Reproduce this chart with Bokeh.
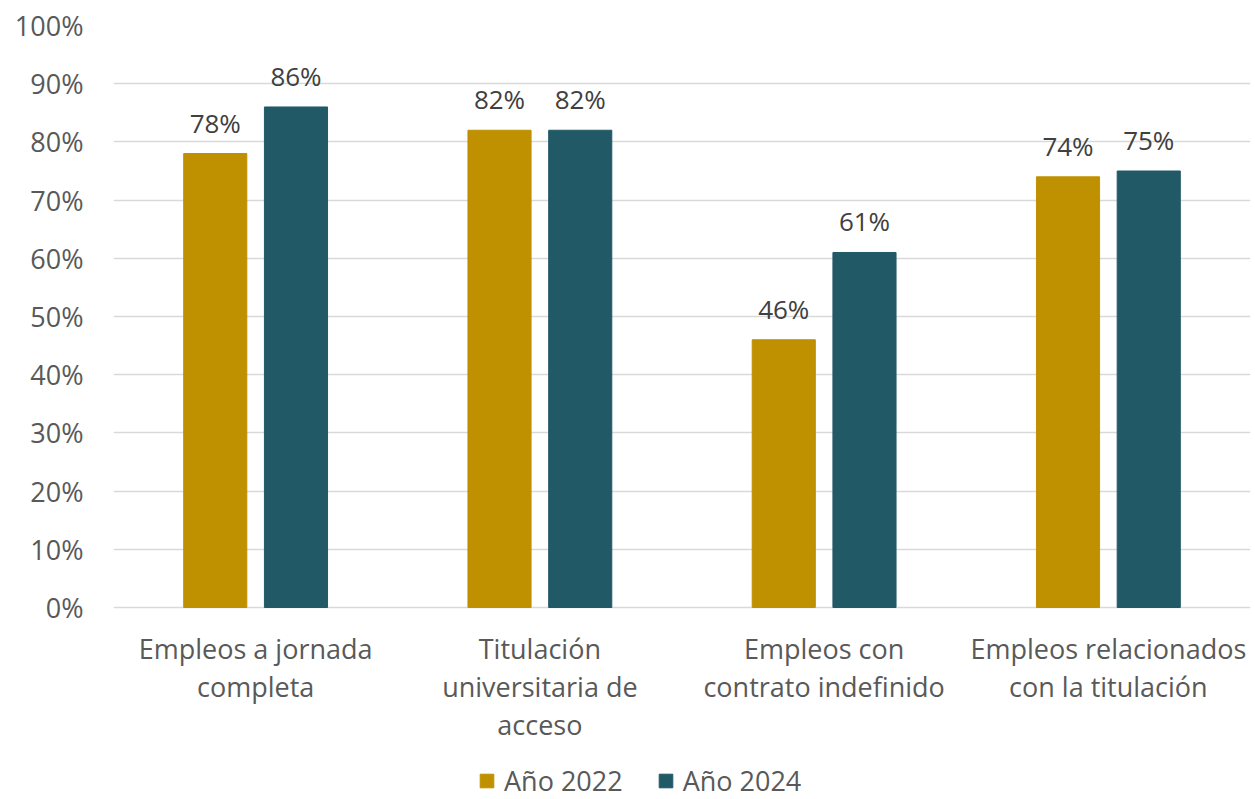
from bokeh.plotting import figure
from bokeh.models import (ColumnDataSource, FactorRange, Range1d, FixedTicker,
                          PrintfTickFormatter, Legend, LegendItem, LabelSet)
from bokeh.core.properties import value
from bokeh.transform import dodge
from bokeh.embed import file_html
from bokeh.resources import INLINE

categories = ["Empleos a jornada completa",
              "Titulación universitaria de acceso",
              "Empleos con contrato indefinido",
              "Empleos relacionados con la titulación"]
label_line1 = ["Empleos a jornada", "Titulación", "Empleos con", "Empleos relacionados"]
label_line2 = ["completa", "universitaria de", "contrato indefinido", "con la titulación"]
label_line3 = ["", "acceso", "", ""]
values_2022 = [78, 82, 46, 74]
values_2024 = [86, 82, 61, 75]
series_names = ["Año 2022", "Año 2024"]
y_ticks = [0, 10, 20, 30, 40, 50, 60, 70, 80, 90, 100]

FONT = "Open Sans"
C22 = "#BF9000"
C24 = "#215967"
PX_PER_UNIT = 5.82          # 582 px for 0..100 %
BELOW_PX = 192              # room under the 0 % line for labels and legend

src = ColumnDataSource(dict(
    cat=categories,
    line1=label_line1,
    line2=label_line2,
    line3=label_line3,
    v22=values_2022,
    v24=values_2024,
    l22=[f"{v}%" for v in values_2022],
    l24=[f"{v}%" for v in values_2024],
))

p = figure(frame_width=1137, frame_height=582 + BELOW_PX, output_backend="svg",
           toolbar_location=None,
           x_range=FactorRange(*categories, range_padding=0),
           y_range=Range1d(-BELOW_PX / PX_PER_UNIT, 100),
           min_border_left=113, min_border_right=3, min_border_top=25,
           min_border_bottom=0, x_axis_location=None)

r1 = p.vbar(x=dodge("cat", -0.142, range=p.x_range), top="v22", width=0.222,
            source=src, fill_color=C22, line_color=C22)
r2 = p.vbar(x=dodge("cat", 0.142, range=p.x_range), top="v24", width=0.222,
            source=src, fill_color=C24, line_color=C24)

for col, lab, off in (("v22", "l22", -0.142), ("v24", "l24", 0.142)):
    ls = LabelSet(x=dodge("cat", off, range=p.x_range), y=col, text=lab, source=src,
                  text_align="center", text_baseline="alphabetic", y_offset=21,
                  text_font=value(FONT), text_font_size=value("26px"),
                  text_color=value("#404040"))
    p.add_layout(ls)

# category labels under the 0 % line, one LabelSet per text line (centred lines)
for line_col, off in (("line1", -51), ("line2", -89), ("line3", -127)):
    cl = LabelSet(x="cat", y=0, text=line_col, source=src,
                  text_align="center", text_baseline="alphabetic", y_offset=off,
                  text_font=value(FONT), text_font_size=value("27px"),
                  text_color=value("#595959"))
    p.add_layout(cl)

p.outline_line_color = None
p.background_fill_color = "white"
p.border_fill_color = "white"

p.xgrid.grid_line_color = None
p.ygrid.grid_line_color = "#D9D9D9"
p.ygrid.grid_line_width = 1.5
p.ygrid.ticker = FixedTicker(ticks=y_ticks)

p.yaxis.ticker = FixedTicker(ticks=y_ticks)
p.yaxis.formatter = PrintfTickFormatter(format="%d%%")
p.yaxis.axis_line_color = None
p.yaxis.major_tick_line_color = None
p.yaxis.minor_tick_line_color = None
p.yaxis.major_label_text_font = FONT
p.yaxis.major_label_text_font_size = "27px"
p.yaxis.major_label_text_color = "#595959"
p.yaxis.major_label_standoff = 24

legend = Legend(items=[LegendItem(label=series_names[0], renderers=[r1]),
                       LegendItem(label=series_names[1], renderers=[r2])],
                orientation="horizontal", location=(365, 0),
                label_text_font=FONT, label_text_font_size="27px",
                label_text_color="#595959", glyph_width=17, glyph_height=17,
                spacing=34, label_standoff=9, border_line_color=None,
                background_fill_alpha=0, margin=0, padding=0)
p.add_layout(legend, "center")

open("out.html", "w").write(file_html(p, INLINE))
